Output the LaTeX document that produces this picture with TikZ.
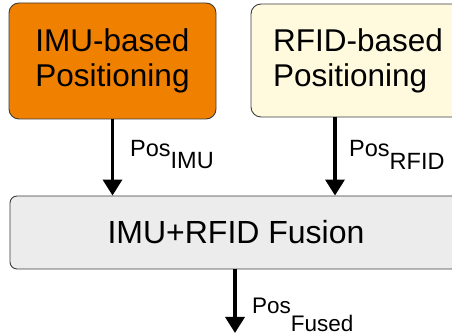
\documentclass[tikz,border=0pt]{standalone}
\usepackage{fontspec}
\setmainfont{Liberation Sans}
\usetikzlibrary{arrows.meta}

\definecolor{imuorange}{RGB}{240,128,0}
\definecolor{rfidyellow}{RGB}{255,250,222}
\definecolor{fusiongray}{RGB}{236,236,236}
\definecolor{edgegray}{RGB}{60,60,60}

\tikzstyle{block}=[draw=edgegray,line width=0.9pt,rounded corners=10pt,inner sep=0pt]
\tikzstyle{flow}=[line width=3.5pt,-{Triangle[width=19pt,length=16pt]}]
\tikzstyle{poslabel}=[anchor=base west,inner sep=0pt,font=\fontsize{23.5}{27}\selectfont]

% subscript set at the same size, just dropped below the baseline
\newcommand{\possub}[2]{Pos\lower#1\hbox{#2}}

\begin{document}
\begin{tikzpicture}[x=1pt,y=1pt]
            \useasboundingbox (0,0) rectangle (452,-336);
            \node (imu) at (112.5,-61) [block,fill=imuorange,minimum width=207pt,minimum height=116pt,
                align=center,font=\fontsize{31.5}{35}\selectfont] {IMU-based\\Positioning};
            \node (rfid) at (358,-60.5) [block,fill=rfidyellow,minimum width=214pt,minimum height=113pt,
                align=left,font=\fontsize{31.5}{35}\selectfont] {RFID-based\\Positioning};
            \node (fusion) at (236,-232.5) [block,rounded corners=7pt,fill=fusiongray,minimum width=452pt,
                minimum height=73pt,font=\fontsize{32}{36}\selectfont] {IMU+RFID Fusion};
            \coordinate (out) at (235,-333);
            \draw[flow] (imu.south) -- (imu.south |- fusion.north);
            \draw[flow] ([xshift=-23pt]rfid.south) -- ([xshift=-23pt]rfid.south |- fusion.north);
            \draw[flow] (fusion.south -| out) -- (out);
            \node (posimu) at (130,-157) [poslabel] {\possub{12pt}{IMU}};
            \node (posrfid) at (349,-157) [poslabel] {\possub{13pt}{RFID}};
            \node (posfused) at (252,-313) [poslabel,font=\fontsize{22.5}{26}\selectfont] {\possub{18pt}{Fused}};
        \end{tikzpicture}
\end{document}
